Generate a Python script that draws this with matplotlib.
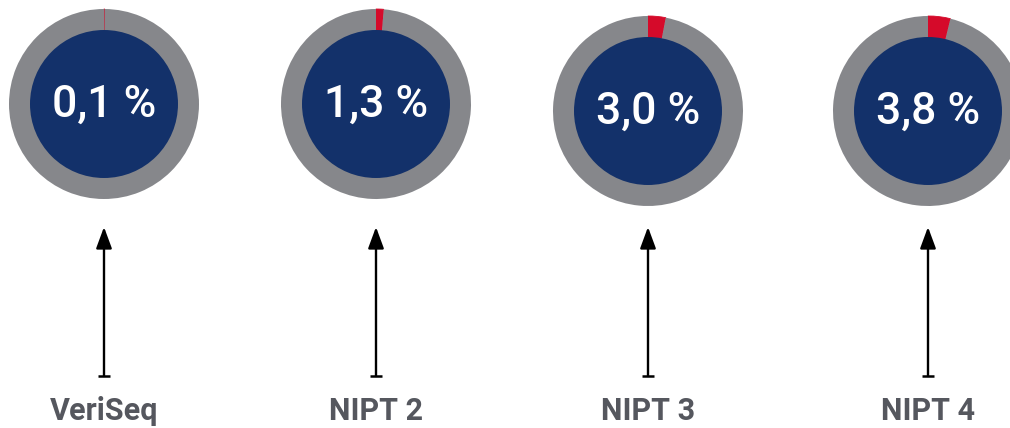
"""
Donut badges showing the rate per test, with arrows pointing up from the labels.
"""

import matplotlib
matplotlib.use("Agg")
import matplotlib.pyplot as plt
from matplotlib.patches import Circle

# ---------------------------------------------------------------------------
# Data
# ---------------------------------------------------------------------------
tests = ["VeriSeq", "NIPT 2", "NIPT 3", "NIPT 4"]
rates = [0.1, 1.3, 3.0, 3.8]          # percent

# ---------------------------------------------------------------------------
# Layout / style (pixel units, origin bottom-left)
# ---------------------------------------------------------------------------
_W, _H = 1010, 428
_DPI = 100
_CX = [104, 376, 648, 928]
_CY = [_H - 104, _H - 104, _H - 111, _H - 111]
_R_OUT = 95
_R_IN = 74
_ARROW_TOP = _H - 227
_ARROW_BOT = _H - 376
_LABEL_Y = _H - 420

_GREY = "#86878b"
_RED = "#d50a2a"
_NAVY = "#13316a"
_LABEL = "#55575e"

plt.rcParams["font.family"] = ["Roboto", "DejaVu Sans"]

fig = plt.figure(figsize=(_W / _DPI, _H / _DPI), dpi=_DPI)
ax = fig.add_axes([0, 0, 1, 1])

for name, rate, cx, cy in zip(tests, rates, _CX, _CY):
    # outer ring: red share clockwise from 12 o'clock, rest grey
    wedges, _ = ax.pie(
        [rate, 100 - rate],
        colors=[_RED, _GREY],
        center=(cx, cy),
        radius=_R_OUT,
        startangle=90,
        counterclock=False,
        wedgeprops=dict(width=_R_OUT - _R_IN + 2, linewidth=0),
    )
    wedges[0].set_edgecolor(_RED)
    wedges[0].set_linewidth(0.6)

    ax.add_patch(Circle((cx, cy), _R_IN, facecolor=_NAVY, edgecolor="none", zorder=3))
    ax.text(cx, cy - 13, f"{rate:.1f} %".replace(".", ","), color="white",
            fontsize=32, fontweight="medium", ha="center", va="baseline", zorder=4)

    # arrow from label up to the badge
    ax.annotate(
        "", xy=(cx, _ARROW_TOP), xytext=(cx, _ARROW_BOT),
        arrowprops=dict(arrowstyle="-|>,head_length=0.65,head_width=0.24",
                        mutation_scale=20, color="black", lw=1.7,
                        shrinkA=0, shrinkB=0),
    )
    ax.plot([cx], [_ARROW_BOT], marker="_", markersize=9, mew=1.8, color="black")

    ax.text(cx, _LABEL_Y, name, color=_LABEL, fontsize=22, fontweight="bold",
            ha="center", va="baseline")

ax.set_xlim(0, _W)
ax.set_ylim(0, _H)
ax.set_aspect("equal")
ax.axis("off")

fig.savefig("out.png", dpi=_DPI, facecolor="white")
